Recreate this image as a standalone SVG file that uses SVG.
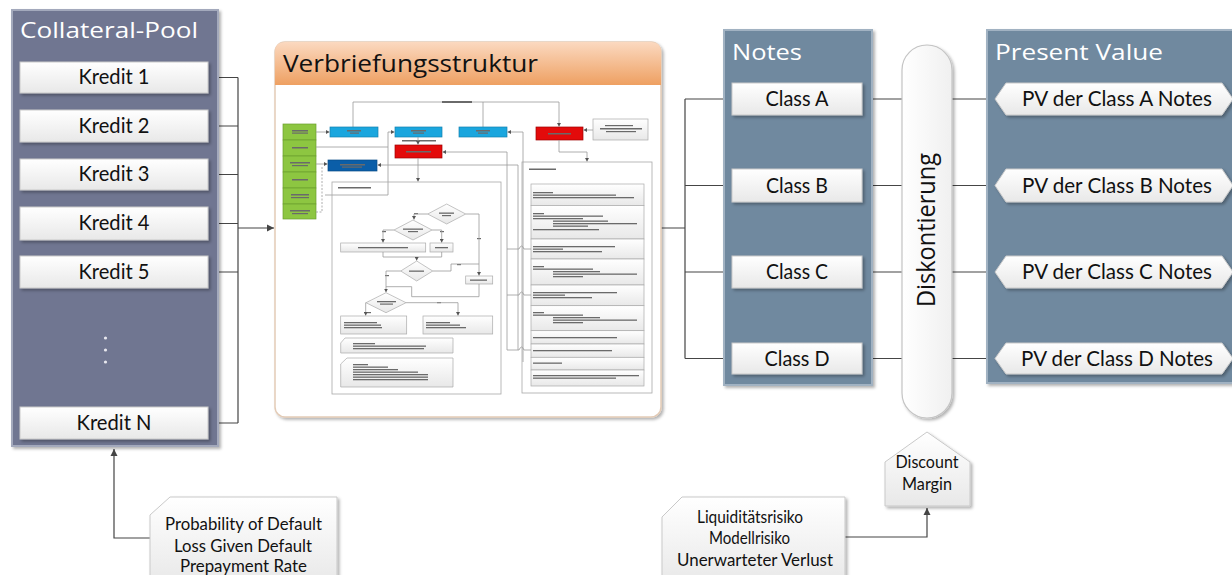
<svg xmlns="http://www.w3.org/2000/svg" width="1232" height="575" viewBox="0 0 1232 575">
<style>
text{font-family:"Open Sans","Noto Sans","Liberation Sans",sans-serif}
.ttl{fill:#fff;font-size:22px}
.lbl{fill:#111;font-size:20.5px;text-anchor:middle;font-family:Lato,"Open Sans",sans-serif}
.note{fill:#111;font-size:16.5px;text-anchor:middle;font-family:Lato,"Open Sans",sans-serif}
.box{fill:url(#gBox);stroke:#c9c9c9;stroke-width:1}
.con{fill:none;stroke:#454545;stroke-width:1.2}
.m{fill:none;stroke:#9a9a9a;stroke-width:0.8}
.md{fill:none;stroke:#9a9a9a;stroke-width:0.8;stroke-dasharray:2 1.5}
.bar{fill:#6a6a6a}
.mb{fill:url(#gBox);stroke:#aaa;stroke-width:0.7}
.gr{fill:#8dc641;stroke:#6c9e2e;stroke-width:0.7}
.bl{fill:#1aa6de;stroke:#1480b0;stroke-width:0.7}
.rd{fill:#e30b0b;stroke:#9e0000;stroke-width:0.7}
</style>
<defs>
<linearGradient id="gBox" x1="0" y1="0" x2="0" y2="1"><stop offset="0" stop-color="#ffffff"/><stop offset="1" stop-color="#e8e8e8"/></linearGradient>
<linearGradient id="gHead" x1="0" y1="0" x2="0" y2="1"><stop offset="0" stop-color="#fbd9c0"/><stop offset="1" stop-color="#eea062"/></linearGradient>
<linearGradient id="gPill" x1="0" y1="0" x2="1" y2="0"><stop offset="0" stop-color="#ffffff"/><stop offset="1" stop-color="#f0f0f0"/></linearGradient>
<filter id="sh" x="-10%" y="-10%" width="130%" height="130%"><feDropShadow dx="2" dy="2" stdDeviation="1.5" flood-color="#000" flood-opacity="0.3"/></filter>
<marker id="ar" markerWidth="8" markerHeight="8" refX="7" refY="4" orient="auto" markerUnits="userSpaceOnUse"><path d="M0,0.5 L7,4 L0,7.5 Z" fill="#454545"/></marker>
<marker id="ma" markerWidth="4" markerHeight="4" refX="3.5" refY="2" orient="auto" markerUnits="userSpaceOnUse"><path d="M0,0 L3.5,2 L0,4 Z" fill="#555"/></marker>
</defs>

<!-- connectors -->
<g id="connectors">
<path class="con" d="M208,77.5 H238 M208,126 H238 M208,174.5 H238 M208,223.5 H238 M208,272 H238 M208,423 H238 M238,77.5 V423"/>
<path class="con" d="M238,228 H274" marker-end="url(#ar)"/>
<path class="con" d="M661,228 H685 M685,99 V358.5"/>
<path class="con" d="M685,99 H731" marker-end="url(#ar)"/>
<path class="con" d="M685,185.5 H731" marker-end="url(#ar)"/>
<path class="con" d="M685,272 H731" marker-end="url(#ar)"/>
<path class="con" d="M685,358.5 H731" marker-end="url(#ar)"/>
<path class="con" d="M862,99 H994" marker-end="url(#ar)"/>
<path class="con" d="M862,185.5 H994" marker-end="url(#ar)"/>
<path class="con" d="M862,272 H994" marker-end="url(#ar)"/>
<path class="con" d="M862,358.5 H994" marker-end="url(#ar)"/>
<path class="con" d="M150,538 H114 V449" marker-end="url(#ar)"/>
<path class="con" d="M845,537 H927 V508" marker-end="url(#ar)"/>
</g>

<!-- Collateral pool -->
<g id="collateral-pool">
<rect x="12" y="10" width="206" height="436" fill="#6f7691" stroke="#a3a9bc" stroke-width="2" filter="url(#sh)"/>
<text class="ttl" x="20" y="38" textLength="178" lengthAdjust="spacingAndGlyphs">Collateral-Pool</text>
</g>
<g id="kredit-1"><rect class="box" x="20" y="62" width="188" height="31" filter="url(#sh)"/><text class="lbl" x="114" y="84" textLength="71" lengthAdjust="spacingAndGlyphs">Kredit 1</text></g>
<g id="kredit-2"><rect class="box" x="20" y="110" width="188" height="32" filter="url(#sh)"/><text class="lbl" x="114" y="132.5" textLength="71" lengthAdjust="spacingAndGlyphs">Kredit 2</text></g>
<g id="kredit-3"><rect class="box" x="20" y="159" width="188" height="31" filter="url(#sh)"/><text class="lbl" x="114" y="181" textLength="71" lengthAdjust="spacingAndGlyphs">Kredit 3</text></g>
<g id="kredit-4"><rect class="box" x="20" y="207" width="188" height="33" filter="url(#sh)"/><text class="lbl" x="114" y="230" textLength="71" lengthAdjust="spacingAndGlyphs">Kredit 4</text></g>
<g id="kredit-5"><rect class="box" x="20" y="256" width="188" height="32" filter="url(#sh)"/><text class="lbl" x="114" y="278.5" textLength="71" lengthAdjust="spacingAndGlyphs">Kredit 5</text></g>
<g id="dots" fill="#e8e8ee"><circle cx="105.5" cy="338" r="1.6"/><circle cx="105.5" cy="350" r="1.6"/><circle cx="105.5" cy="362" r="1.6"/></g>
<g id="kredit-n"><rect class="box" x="20" y="407" width="188" height="32" filter="url(#sh)"/><text class="lbl" x="114" y="429.5" textLength="75" lengthAdjust="spacingAndGlyphs">Kredit N</text></g>

<!-- Verbriefungsstruktur -->
<g id="verbriefungsstruktur">
<rect x="275" y="42" width="386" height="375" rx="10" fill="#fff" stroke="#e3cbb6" stroke-width="1.5" filter="url(#sh)"/>
<path d="M275,85 V52 Q275,42 285,42 H651 Q661,42 661,52 V85 Z" fill="url(#gHead)"/>
<text x="283" y="71.5" font-size="24" fill="#111" textLength="255" lengthAdjust="spacingAndGlyphs">Verbriefungsstruktur</text>

<!-- miniature flowchart -->
<g id="mini">
<path class="m" d="M353,102 H559 M353,102 V127 M483,102 V127"/>
<path class="m" d="M559,102 V126.5" marker-end="url(#ma)"/>
<rect class="bar" x="442" y="101" width="30" height="2"/>
<rect class="gr" x="283" y="124" width="33" height="16"/>
<rect class="gr" x="283" y="140" width="33" height="16"/>
<rect class="gr" x="283" y="156" width="33" height="16"/>
<rect class="gr" x="283" y="172" width="33" height="16"/>
<rect class="gr" x="283" y="188" width="33" height="16"/>
<rect class="gr" x="283" y="204" width="33" height="15"/>
<g class="bar"><rect x="292" y="130" width="16" height="1.5"/><rect x="292" y="132.5" width="16" height="1.2"/><rect x="292" y="147" width="16" height="1.5"/><rect x="290" y="162" width="20" height="1.5"/><rect x="292" y="165" width="16" height="1.2"/><rect x="292" y="179" width="16" height="1.5"/><rect x="291" y="194" width="18" height="1.5"/><rect x="291" y="197" width="18" height="1.2"/><rect x="290" y="210" width="20" height="1.5"/><rect x="292" y="213" width="16" height="1.2"/></g>
<rect class="bl" x="330" y="127" width="48" height="10"/>
<rect class="bl" x="395" y="127" width="47" height="10"/>
<rect class="bl" x="459" y="127" width="48" height="10"/>
<rect class="rd" x="536" y="127" width="47" height="13"/>
<rect class="rd" x="395" y="145" width="47" height="13"/>
<rect x="328" y="160" width="49" height="11" fill="#0b5ea8" stroke="#074a86" stroke-width="0.7"/>
<rect class="mb" x="593" y="119" width="55" height="21"/>
<g class="bar"><rect x="347" y="130" width="14" height="1.5"/><rect x="350" y="132.5" width="9" height="1.2"/><rect x="411" y="130" width="15" height="1.5"/><rect x="413" y="132.5" width="11" height="1.2"/><rect x="476" y="130" width="14" height="1.5"/><rect x="478" y="132.5" width="10" height="1.2"/><rect x="548" y="133" width="23" height="1.5"/><rect x="406" y="151" width="25" height="1.5"/><rect x="340" y="164" width="25" height="1.5"/><rect x="342" y="166.5" width="20" height="1.2"/><rect x="600" y="128" width="42" height="1.5"/><rect x="605" y="125" width="28" height="1.2"/><rect x="606" y="131" width="30" height="1.2"/><rect x="402" y="140" width="34" height="1.5"/><rect x="338" y="187" width="33" height="1.5"/><rect x="529" y="168.5" width="27" height="1.5"/></g>
<path class="m" d="M316,132 H329.5" marker-end="url(#ma)"/>
<path class="m" d="M316,147 H388 M325,195 H388 V132 H394.5" marker-end="url(#ma)"/>
<path class="m" d="M316,164 H327.5" marker-end="url(#ma)"/>
<path class="m" d="M418,137 V144.5" marker-end="url(#ma)"/>
<path class="m" d="M523,362 V132 H507.5" marker-end="url(#ma)"/>
<path class="m" d="M507,350 V152 H442.5" marker-end="url(#ma)"/>
<path class="m" d="M518,350 V165 H377.5" marker-end="url(#ma)"/>
<path class="m" d="M418,158 V181.5" marker-end="url(#ma)"/>
<path class="m" d="M593,130 H583.5" marker-end="url(#ma)"/>
<path class="m" d="M559,140 V152 H587 V161.5" marker-end="url(#ma)"/>
<path class="md" d="M322,167 V212 H316"/>
<rect x="332" y="182" width="169" height="212" fill="none" stroke="#a8a8a8" stroke-width="0.8"/>
<rect x="522" y="162" width="130" height="231" fill="none" stroke="#a8a8a8" stroke-width="0.8"/>
<rect class="mb" x="531" y="184" width="113" height="21.5"/>
<rect class="mb" x="531" y="205.5" width="113" height="33.5"/>
<rect class="mb" x="531" y="239" width="113" height="20"/>
<rect class="mb" x="531" y="259" width="113" height="26"/>
<rect class="mb" x="531" y="285" width="113" height="20.7"/>
<rect class="mb" x="531" y="305.7" width="113" height="25"/>
<rect class="mb" x="531" y="330.7" width="113" height="13.3"/>
<rect class="mb" x="531" y="344" width="113" height="13.3"/>
<rect class="mb" x="531" y="357.3" width="113" height="12.7"/>
<rect class="mb" x="531" y="370" width="113" height="16"/>
<g class="bar">
<rect x="533" y="192" width="20" height="1.3"/><rect x="533" y="194.5" width="83" height="1.3"/><rect x="533" y="197" width="101" height="1.3"/>
<rect x="533" y="213" width="11" height="1.3"/><rect x="533" y="215.5" width="70" height="1.3"/><rect x="533" y="218" width="50" height="1.3"/><rect x="553" y="220.5" width="55" height="1.3"/><rect x="553" y="223" width="84" height="1.3"/><rect x="553" y="225.5" width="35" height="1.3"/><rect x="533" y="229" width="66" height="1.3"/>
<rect x="533" y="246" width="82" height="1.3"/><rect x="533" y="248.5" width="30" height="1.3"/><rect x="533" y="251" width="69" height="1.3"/>
<rect x="533" y="266" width="11" height="1.3"/><rect x="533" y="268.5" width="60" height="1.3"/><rect x="553" y="271" width="47" height="1.3"/><rect x="553" y="273.5" width="84" height="1.3"/><rect x="553" y="276" width="30" height="1.3"/>
<rect x="533" y="292" width="84" height="1.3"/><rect x="533" y="294.5" width="32" height="1.3"/><rect x="533" y="297" width="59" height="1.3"/>
<rect x="533" y="312" width="11" height="1.3"/><rect x="533" y="314.5" width="50" height="1.3"/><rect x="553" y="317" width="47" height="1.3"/><rect x="553" y="319.5" width="84" height="1.3"/><rect x="553" y="322" width="30" height="1.3"/>
<rect x="533" y="337" width="84" height="1.3"/>
<rect x="533" y="350" width="79" height="1.3"/>
<rect x="533" y="362.5" width="29" height="1.3"/>
<rect x="533" y="375" width="106" height="1.3"/><rect x="533" y="377.5" width="83" height="1.3"/>
</g>
<path class="m" d="M507,249 H519 Q521.5,243 524,249 H531 M507,295 H519 Q521.5,289 524,295 H531 M507,350 H519 Q521.5,344 524,350 H531"/>
<polygon class="mb" points="446.7,204 465.7,214 446.7,224 427.7,214"/>
<polygon class="mb" points="413,220 432,230 413,240 394,230"/>
<rect class="mb" x="340.7" y="243" width="85" height="9"/>
<rect class="mb" x="430" y="243" width="23" height="9"/>
<polygon class="mb" points="416.7,261 432.7,271 416.7,281 400.7,271"/>
<rect class="mb" x="465.7" y="276" width="27" height="8"/>
<polygon class="mb" points="386,292.7 406,302.7 386,312.7 366,302.7"/>
<rect class="mb" x="340.7" y="316" width="66" height="18"/>
<rect class="mb" x="423" y="316" width="69.7" height="18"/>
<path class="mb" d="M340.7,343 L345,338 H453 V353 H340.7 Z"/>
<path class="mb" d="M340.7,364 L347,358 H453 V387 H340.7 Z"/>
<g class="bar">
<rect x="439" y="212.5" width="15" height="1.3"/><rect x="442" y="215" width="9" height="1.2"/>
<rect x="403" y="228.5" width="20" height="1.3"/><rect x="408" y="231" width="10" height="1.2"/>
<rect x="358" y="247" width="50" height="1.3"/><rect x="435" y="247" width="13" height="1.3"/>
<rect x="409" y="270.5" width="15" height="1.3"/><rect x="470" y="279.5" width="17" height="1.3"/>
<rect x="377" y="301" width="19" height="1.3"/><rect x="380" y="303.5" width="13" height="1.2"/>
<rect x="344" y="322" width="33" height="1.3"/><rect x="344" y="324.5" width="37" height="1.3"/><rect x="344" y="327" width="38" height="1.3"/>
<rect x="426" y="322" width="24" height="1.3"/><rect x="426" y="324.5" width="34" height="1.3"/><rect x="426" y="327" width="40" height="1.3"/>
<rect x="353" y="343" width="22" height="1.3"/><rect x="353" y="345.5" width="73" height="1.3"/><rect x="353" y="348" width="71" height="1.3"/>
<rect x="353" y="364" width="15" height="1.3"/><rect x="353" y="366.5" width="35" height="1.3"/><rect x="353" y="369" width="45" height="1.3"/><rect x="353" y="371.5" width="65" height="1.3"/><rect x="353" y="374" width="75" height="1.3"/><rect x="353" y="376.5" width="75" height="1.3"/><rect x="353" y="379" width="75" height="1.3"/>
<rect x="414" y="213" width="4" height="1.2"/><rect x="382" y="231" width="4" height="1.2"/><rect x="440" y="231" width="4" height="1.2"/><rect x="477" y="238" width="4" height="1.2"/><rect x="457" y="264" width="4" height="1.2"/><rect x="385" y="275" width="4" height="1.2"/><rect x="367" y="312" width="4" height="1.2"/><rect x="437" y="302" width="4" height="1.2"/>
</g>
<path class="m" d="M427.7,214 H414 V219.5" marker-end="url(#ma)"/>
<path class="m" d="M465.7,214 H479 V275.5" marker-end="url(#ma)"/>
<path class="m" d="M394,230 H383 V242.5" marker-end="url(#ma)"/>
<path class="m" d="M432,230 H441.7 V242.5" marker-end="url(#ma)"/>
<path class="m" d="M383,252 V257 H441.7 V252 M416.7,257 V260.5" marker-end="url(#ma)"/>
<path class="m" d="M432.7,271 H451 V264 H479"/>
<path class="m" d="M400.7,271 H386 V292.2" marker-end="url(#ma)"/>
<path class="m" d="M386,286.7 H411.7 V296.7 H479 V284"/>
<path class="m" d="M366,302.7 H365.7 V315.5" marker-end="url(#ma)"/>
<path class="m" d="M406,302.7 H458 V315.5" marker-end="url(#ma)"/>
</g>
</g>

<!-- Notes -->
<g id="notes">
<rect x="724" y="30" width="148" height="355" fill="#6f899f" stroke="#a1b2c2" stroke-width="2" filter="url(#sh)"/>
<text class="ttl" x="732" y="60" textLength="70" lengthAdjust="spacingAndGlyphs">Notes</text>
</g>
<g id="class-a"><rect class="box" x="732" y="83" width="130" height="32" filter="url(#sh)"/><text class="lbl" x="797" y="106" textLength="63" lengthAdjust="spacingAndGlyphs">Class A</text></g>
<g id="class-b"><rect class="box" x="732" y="169" width="130" height="33" filter="url(#sh)"/><text class="lbl" x="797" y="192.5" textLength="62" lengthAdjust="spacingAndGlyphs">Class B</text></g>
<g id="class-c"><rect class="box" x="732" y="256" width="130" height="32" filter="url(#sh)"/><text class="lbl" x="797" y="279" textLength="62" lengthAdjust="spacingAndGlyphs">Class C</text></g>
<g id="class-d"><rect class="box" x="732" y="343" width="130" height="31" filter="url(#sh)"/><text class="lbl" x="797" y="365.5" textLength="65" lengthAdjust="spacingAndGlyphs">Class D</text></g>

<!-- Diskontierung -->
<g id="diskontierung">
<rect x="902" y="45" width="50" height="373" rx="25" fill="url(#gPill)" stroke="#c4c4c4" stroke-width="1.2" filter="url(#sh)"/>
<text x="0" y="0" font-size="26" fill="#111" text-anchor="middle" font-family="Lato, 'Open Sans', sans-serif" transform="translate(935,230) rotate(-90)" textLength="154" lengthAdjust="spacingAndGlyphs">Diskontierung</text>
</g>

<!-- Present Value -->
<g id="present-value">
<rect x="987" y="30" width="260" height="353" fill="#6f899f" stroke="#a1b2c2" stroke-width="2" filter="url(#sh)"/>
<text class="ttl" x="995" y="59.5" textLength="168" lengthAdjust="spacingAndGlyphs">Present Value</text>
</g>
<g id="pv-a"><path class="box" d="M995,99 L1006,83 H1222 L1233,99 L1222,115 H1006 Z" filter="url(#sh)"/><text class="lbl" x="1117" y="106" textLength="190" lengthAdjust="spacingAndGlyphs">PV der Class A Notes</text></g>
<g id="pv-b"><path class="box" d="M995,185.5 L1006,169 H1222 L1233,185.5 L1222,202 H1006 Z" filter="url(#sh)"/><text class="lbl" x="1117" y="192.5" textLength="190" lengthAdjust="spacingAndGlyphs">PV der Class B Notes</text></g>
<g id="pv-c"><path class="box" d="M995,272 L1006,256 H1222 L1233,272 L1222,288 H1006 Z" filter="url(#sh)"/><text class="lbl" x="1117" y="279" textLength="190" lengthAdjust="spacingAndGlyphs">PV der Class C Notes</text></g>
<g id="pv-d"><path class="box" d="M995,358.5 L1006,343 H1222 L1233,358.5 L1222,374 H1006 Z" filter="url(#sh)"/><text class="lbl" x="1117" y="365.5" textLength="192" lengthAdjust="spacingAndGlyphs">PV der Class D Notes</text></g>

<!-- Discount Margin -->
<g id="discount-margin">
<path class="box" d="M885,506 V462 L927,432 L970,462 V506 Z" filter="url(#sh)"/>
<text class="note" x="927" y="468" textLength="63" lengthAdjust="spacingAndGlyphs">Discount</text>
<text class="note" x="927" y="490" textLength="50" lengthAdjust="spacingAndGlyphs">Margin</text>
</g>

<!-- Risk parameter notes -->
<g id="kreditparameter">
<path class="box" d="M150,515 L170,497 H337 V585 H150 Z" filter="url(#sh)"/>
<text class="note" x="243.5" y="530" textLength="157" lengthAdjust="spacingAndGlyphs">Probability of Default</text>
<text class="note" x="243" y="551.5" textLength="138" lengthAdjust="spacingAndGlyphs">Loss Given Default</text>
<text class="note" x="243.5" y="572" textLength="127" lengthAdjust="spacingAndGlyphs">Prepayment Rate</text>
</g>
<g id="risikoaufschlaege">
<path class="box" d="M662,517 L682,497 H845 V585 H662 Z" filter="url(#sh)"/>
<text class="note" x="750" y="522.5" textLength="106" lengthAdjust="spacingAndGlyphs">Liquiditätsrisiko</text>
<text class="note" x="749.5" y="544" textLength="81" lengthAdjust="spacingAndGlyphs">Modellrisiko</text>
<text class="note" x="755" y="565.5" textLength="156" lengthAdjust="spacingAndGlyphs">Unerwarteter Verlust</text>
</g>
</svg>
